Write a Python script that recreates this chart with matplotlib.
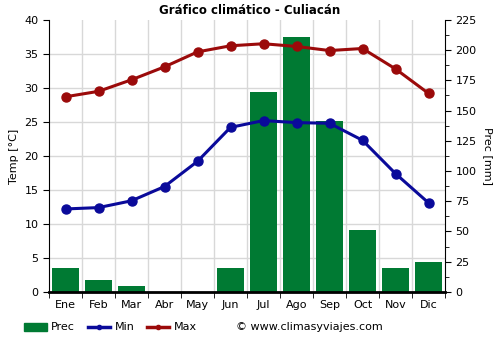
import matplotlib
matplotlib.use("Agg")
import matplotlib.pyplot as plt
from matplotlib.ticker import MultipleLocator
from matplotlib.lines import Line2D
from matplotlib.patches import Rectangle

months = ["Ene", "Feb", "Mar", "Abr", "May", "Jun", "Jul", "Ago", "Sep", "Oct", "Nov", "Dic"]
prec = [20, 10, 5, 0, 0, 20, 165, 211, 141, 51, 20, 25]
tmin = [12.2, 12.4, 13.4, 15.5, 19.2, 24.2, 25.2, 24.9, 24.8, 22.3, 17.4, 13.1]
tmax = [28.7, 29.5, 31.2, 33.1, 35.3, 36.2, 36.5, 36.1, 35.5, 35.8, 32.8, 29.2]

green = "#007A33"
blue = "#0A0A9A"
red = "#9B0A0A"

W, H = 500, 350
fig = plt.figure(figsize=(5, 3.5), dpi=100)
ax = fig.add_axes([0.098, 0.166, 0.792, 0.777])
ax2 = ax.twinx()

x = list(range(len(months)))
ax2.bar(x, prec, width=0.8, color=green, zorder=2)
ax2.set_ylim(0, 225)
ax.set_ylim(0, 40)
ax.set_xlim(-0.5, 11.5)

ax.set_zorder(ax2.get_zorder() + 1)
ax.patch.set_visible(False)
ax.plot(x, tmin, color=blue, lw=2.2, marker="o", ms=6.5, zorder=5)
ax.plot(x, tmax, color=red, lw=2.2, marker="o", ms=6.5, zorder=5)

for b in [i + 0.5 for i in range(11)]:
    ax2.axvline(b, color="#d8d8d8", lw=1, zorder=0)
for t in range(5, 40, 5):
    ax2.axhline(t * 225 / 40, color="#d8d8d8", lw=1, zorder=0)

ax.set_xticks(x)
ax.set_xticklabels(months)
ax.set_xticks([i + 0.5 for i in range(-1, 12)], minor=True)
ax.tick_params(axis="x", which="major", length=0, labelsize=8, pad=6)
ax.tick_params(axis="x", which="minor", length=4, direction="out", color="black")
ax.yaxis.set_major_locator(MultipleLocator(5))
ax.tick_params(axis="y", labelsize=8, length=4)
ax2.yaxis.set_major_locator(MultipleLocator(25))
ax2.yaxis.set_minor_locator(MultipleLocator(12.5))
ax2.tick_params(axis="y", which="major", labelsize=8, length=4)
ax2.tick_params(axis="y", which="minor", length=3)

for a in (ax, ax2):
    a.spines["top"].set_visible(False)
ax.spines["right"].set_visible(False)
ax2.spines["left"].set_visible(False)
ax.spines["bottom"].set_linewidth(2)
ax2.spines["bottom"].set_visible(False)

ax.set_ylabel("Temp [°C]", fontsize=8)
ax2.set_ylabel("Prec [mm]", fontsize=8, rotation=270, labelpad=12)

fig.text(0.5, 0.97, "Gráfico climático - Culiacán", ha="center", va="center",
         fontsize=8.5, fontweight="bold")

# legend drawn manually in figure pixel positions
ly = 1 - 326.5 / H
fig.add_artist(Rectangle((24 / W, 1 - 331 / H), 23 / W, 8 / H, color=green,
                         transform=fig.transFigure))
fig.text(51 / W, ly, "Prec", ha="left", va="center", fontsize=8)
fig.add_artist(Line2D([88 / W, 110 / W], [ly, ly], color=blue, lw=2.5,
                      transform=fig.transFigure))
fig.add_artist(Line2D([99 / W], [ly], color=blue, marker="o", ms=3,
                      transform=fig.transFigure))
fig.text(115 / W, ly, "Min", ha="left", va="center", fontsize=8)
fig.add_artist(Line2D([147 / W, 169 / W], [ly, ly], color=red, lw=2.5,
                      transform=fig.transFigure))
fig.add_artist(Line2D([158 / W], [ly], color=red, marker="o", ms=3,
                      transform=fig.transFigure))
fig.text(174 / W, ly, "Max", ha="left", va="center", fontsize=8)
fig.text(236 / W, ly, "© www.climasyviajes.com", ha="left", va="center", fontsize=8)

fig.savefig("out.png", dpi=100)
